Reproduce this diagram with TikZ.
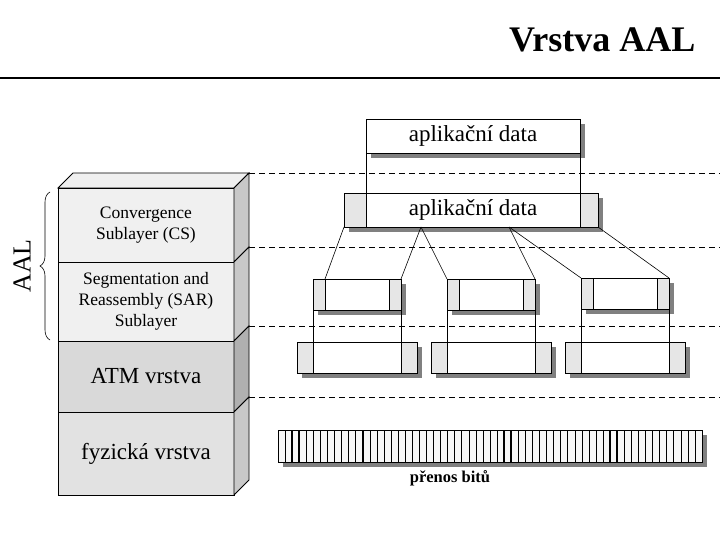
\documentclass[tikz,border=0pt]{standalone}
\usepackage{fontspec}
\setmainfont{Liberation Serif}
\usetikzlibrary{positioning,calc,shadows,decorations.pathreplacing}
\definecolor{lyrlight}{HTML}{F0F0F0}
\definecolor{lyrmid}{HTML}{E2E2E2}
\definecolor{lyrdark}{HTML}{D9D9D9}
\definecolor{sidelight}{HTML}{C8C8C8}
\definecolor{sidedark}{HTML}{B0B0B0}
\definecolor{hdrgray}{HTML}{E6E6E6}

\begin{document}
\begin{tikzpicture}[x=1pt,y=-1pt,
    box/.style={draw,line width=0.8pt,inner sep=0pt,outer sep=0pt,anchor=north west},
    shade5/.style={general shadow={fill=black!50,shadow xshift=5pt,shadow yshift=-5pt}},
    pdu/.style={box,fill=white,shade5,font=\fontsize{23}{26}\selectfont},
    hdr/.style={box,fill=hdrgray,shade5},
    layer/.style={box,align=center},
    level/.style={dashed,dash pattern=on 6pt off 4pt,line width=0.7pt},
    link/.style={line width=0.6pt}]
      \useasboundingbox (0,0) rectangle (720,540);
      \node[font=\bfseries\fontsize{36}{40}\selectfont,anchor=base east] (title) at (699,52) {Vrstva AAL};
      \draw[line width=2.5pt] (0,78) -- (720,78);

      \node[layer,fill=lyrlight,minimum width=176,minimum height=74,font=\fontsize{17.5}{21}\selectfont] (cs) at (58,188) {Convergence\\Sublayer (CS)};
      \node[layer,fill=lyrlight,minimum width=176,minimum height=79,font=\fontsize{17.5}{21}\selectfont] (sar) at (58,262) {Segmentation and\\Reassembly (SAR)\\Sublayer};
      \node[layer,fill=lyrdark,minimum width=176,minimum height=71,font=\fontsize{23}{26}\selectfont] (atm) at (58,341) {ATM vrstva};
      \node[layer,fill=lyrmid,minimum width=176,minimum height=83,font=\fontsize{23}{26}\selectfont] (fyz) at (58,412) {fyzická vrstva};
      \filldraw[fill=lyrlight,line width=0.8pt] (cs.north west) -- ++(15,-15) -- ++(176,0) -- (cs.north east) -- cycle;
      \foreach \l/\c in {cs/sidelight,sar/sidelight,atm/sidedark,fyz/sidelight}
        \filldraw[fill=\c,line width=0.8pt] (\l.north east) -- ++(15,-15) |- ($(\l.south east)+(15,-15)$) -- (\l.south east) -- cycle;
      \foreach \l in {cs,sar,atm,fyz}
        \draw[level] (\l.north east) ++(15,-15) -- ++(472,0);

      \draw[line width=0.6pt,decorate,decoration={brace,amplitude=10pt}] (50,340) -- (50,192);
      \node[rotate=90,font=\fontsize{26}{30}\selectfont] (aal) at (22,266) {AAL};

      \node[pdu,minimum width=214,minimum height=34] (app) at (366,119) {aplikační data};

      \node[hdr,minimum width=22,minimum height=34] (csh) at (344,193) {};
      \node[pdu,minimum width=214,minimum height=34] (csd) at (366,193) {aplikační data};
      \node[hdr,minimum width=18,minimum height=34] (cst) at (580,193) {};

      \node[hdr,minimum width=12,minimum height=31] (sar1h) at (313,279) {};
      \node[pdu,minimum width=64,minimum height=31] (sar1d) at (325,279) {};
      \node[hdr,minimum width=12,minimum height=31] (sar1t) at (389,279) {};
      \node[hdr,minimum width=12,minimum height=31] (sar2h) at (447,279) {};
      \node[pdu,minimum width=64,minimum height=31] (sar2d) at (459,279) {};
      \node[hdr,minimum width=12,minimum height=31] (sar2t) at (523,279) {};
      \node[hdr,minimum width=12,minimum height=31] (sar3h) at (581,278) {};
      \node[pdu,minimum width=64,minimum height=31] (sar3d) at (593,278) {};
      \node[hdr,minimum width=12,minimum height=31] (sar3t) at (657,278) {};

      \node[hdr,minimum width=16,minimum height=31] (atm1h) at (297,342) {};
      \node[pdu,minimum width=88,minimum height=31] (atm1d) at (313,342) {};
      \node[hdr,minimum width=16,minimum height=31] (atm1t) at (401,342) {};
      \node[hdr,minimum width=16,minimum height=31] (atm2h) at (431,342) {};
      \node[pdu,minimum width=88,minimum height=31] (atm2d) at (447,342) {};
      \node[hdr,minimum width=16,minimum height=31] (atm2t) at (535,342) {};
      \node[hdr,minimum width=16,minimum height=31] (atm3h) at (565,342) {};
      \node[pdu,minimum width=88,minimum height=31] (atm3d) at (581,342) {};
      \node[hdr,minimum width=16,minimum height=31] (atm3t) at (669,342) {};

      \draw[link] (app.south west) -- (csd.north west);
      \draw[link] (app.south east) -- (csd.north east);
      \coordinate (cut1) at (421,227);
      \coordinate (cut2) at (509,227);
      \draw[link] (csh.south west) -- (sar1d.north west);
      \draw[link] (cut1) -- (sar1t.north east);
      \draw[link] (cut1) -- (sar2h.north west);
      \draw[link] (cut2) -- (sar2t.north east);
      \draw[link] (cut2) -- (sar3h.north west);
      \draw[link] (cst.south east) -- (sar3t.north east);
      \draw[link] (sar1h.south west) -- (atm1d.north west);
      \draw[link] (sar1t.south east) -- (atm1d.north east);
      \draw[link] (sar2h.south west) -- (atm2d.north west);
      \draw[link] (sar2t.south east) -- (atm2d.north east);
      \draw[link] (sar3h.south west) -- (atm3d.north west);
      \draw[link] (sar3t.south east) -- (atm3d.north east);

      \node[box,fill=black!3,shade5,minimum width=424,minimum height=32] (bits) at (278,430) {};
      \foreach \k in {1,...,59}
        \draw[line width=0.6pt] ($(bits.north west)+(\k*7.0667,0)$) -- ++(0,32);
      \foreach \k in {2,3,12,32,33,47,48}
        \draw[line width=1.6pt] ($(bits.north west)+(\k*7.0667,0)$) -- ++(0,32);
      \node[font=\bfseries\fontsize{16.5}{18}\selectfont] (lbl) at (450,478) {přenos bitů};
    \end{tikzpicture}
\end{document}
